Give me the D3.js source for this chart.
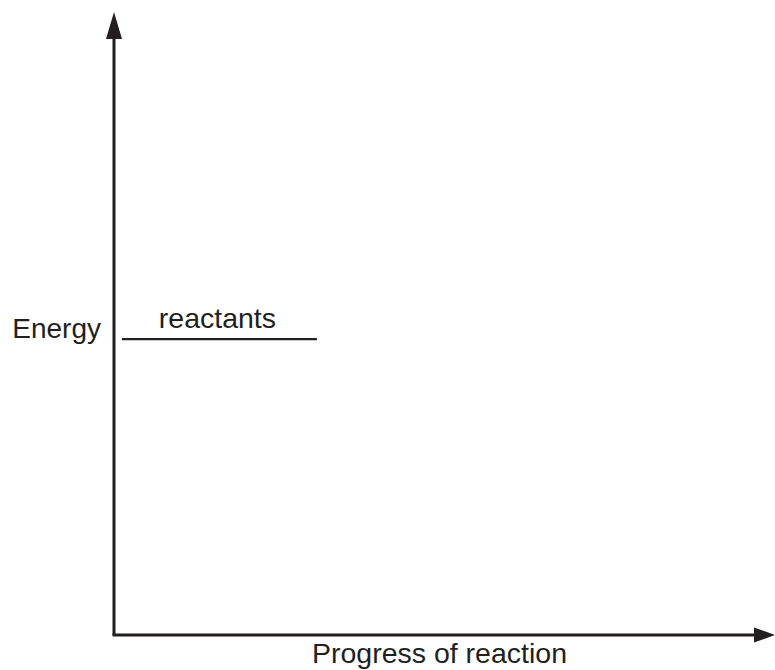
<!DOCTYPE html>
<html>
<head>
<meta charset="utf-8">
<script src="https://cdn.jsdelivr.net/npm/d3@7"></script>
<style>
  body { margin: 0; background: #fff; }
  text { font-family: "Liberation Sans", Arial, sans-serif; fill: #231f20; }
</style>
</head>
<body>
<div id="chartid"></div>
<script>
"use strict"

// energy profile, arbitrary units 0..100 on both axes
var axisLabels = ["Progress of reaction", "Energy"];
var levelNames = ["reactants"];
var levelEnergy = [47.5];
var levelStart = [1.2];
var levelEnd = [30.7];

function createChart(){
  var svg = d3.select("#chartid").append("svg")
    .attr("width", 775)
    .attr("height", 670);

  var x = d3.scaleLinear().domain([0, 100]).range([114, 775]);
  var y = d3.scaleLinear().domain([0, 100]).range([635, 12]);
  var ink = "#231f20";

  // axes with arrow heads
  svg.append("path")
    .attr("d", d3.line()([[x(0), y(0)], [x(0), y(100) + 20]]))
    .attr("stroke", ink).attr("stroke-width", 3).attr("fill", "none");
  svg.append("path")
    .attr("d", d3.line()([[x(0) - 1.5, y(0)], [x(100) - 16, y(0)]]))
    .attr("stroke", ink).attr("stroke-width", 3).attr("fill", "none");

  // arrow heads
  svg.append("path")
    .attr("d", d3.line()([[x(0), y(100)], [x(0) - 8, y(100) + 27], [x(0) + 8, y(100) + 27]]) + "Z")
    .attr("fill", ink);
  svg.append("path")
    .attr("d", d3.line()([[x(100), y(0)], [x(100) - 21, y(0) - 7.5], [x(100) - 21, y(0) + 7.5]]) + "Z")
    .attr("fill", ink);

  // axis titles
  svg.append("text")
    .attr("x", (x(0) + x(100)) / 2 - 5)
    .attr("y", y(0) + 28)
    .attr("text-anchor", "middle")
    .attr("font-size", 28.5)
    .text(axisLabels[0]);
  svg.append("text")
    .attr("x", x(0) - 13)
    .attr("y", y(levelEnergy[0]) - 1)
    .attr("text-anchor", "end")
    .attr("font-size", 28)
    .text(axisLabels[1]);

  // energy levels
  levelNames.forEach(function(name, i){
    svg.append("line")
      .attr("x1", x(levelStart[i])).attr("x2", x(levelEnd[i]))
      .attr("y1", y(levelEnergy[i])).attr("y2", y(levelEnergy[i]))
      .attr("stroke", ink).attr("stroke-width", 2.2);
    svg.append("text")
      .attr("x", (x(levelStart[i]) + x(levelEnd[i])) / 2 - 2)
      .attr("y", y(levelEnergy[i]) - 11.5)
      .attr("text-anchor", "middle")
      .attr("font-size", 28.5)
      .text(name);
  });
}

createChart();
</script>
</body>
</html>
